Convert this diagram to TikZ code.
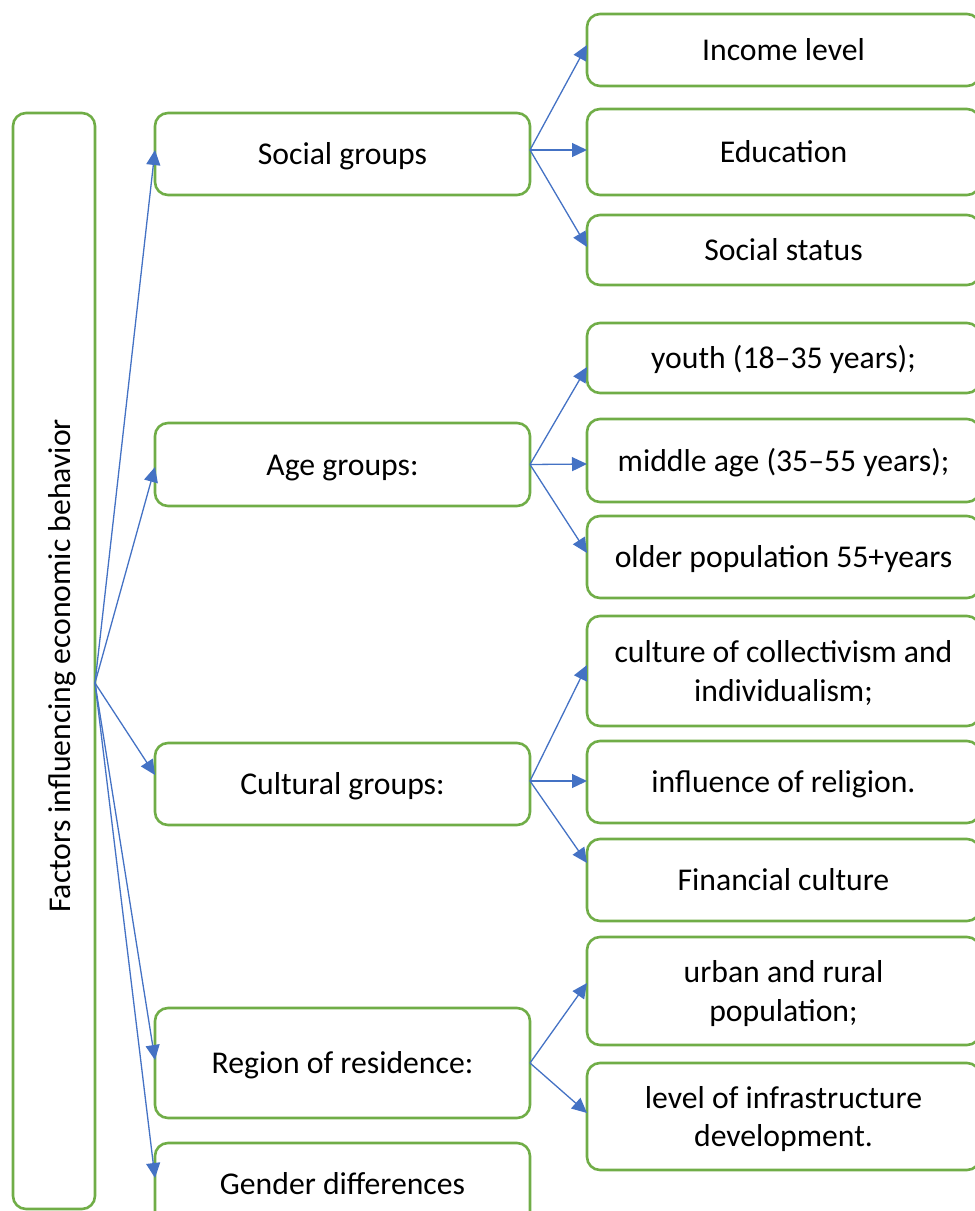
\documentclass[tikz,border=0pt]{standalone}
\usepackage{fontspec}
\setmainfont{Carlito}
\usetikzlibrary{arrows.meta,calc}
\definecolor{boxgreen}{HTML}{70AD47}
\definecolor{arrowblue}{HTML}{4472C4}
\newcommand{\myTopSt}{\rule{0pt}{30.2pt}}
\newcommand{\myBotSt}{\rule[-8.5pt]{0pt}{8.5pt}}
\begin{document}
\begin{tikzpicture}[x=1pt,y=-1pt,
  txt/.style={font=\fontsize{31.7}{38.4}\selectfont},
  box/.style={draw=boxgreen, line width=2.6pt, rounded corners=13pt, inner sep=0pt, outer sep=0pt, align=center, txt},
  midbox/.style={box, minimum width=375pt},
  rightbox/.style={box, minimum width=393pt},
  conn/.style={draw=arrowblue, line width=1.3pt, -{Triangle[length=15pt,width=14pt]}}]
\useasboundingbox (0,0) rectangle (975,1211);
\clip (0,0) rectangle (975,1211);
% left column
\node[box, minimum width=82pt, minimum height=1096pt] (L) at (54,661) {};
\node[txt, rotate=90, anchor=base west, inner sep=0pt] (title) at (70,913) {Factors influencing economic behavior};
% middle column
\node[midbox, minimum height=82pt] (social) at (342.5,154) {\myTopSt Social groups\myBotSt};
\node[midbox, minimum height=83pt] (age) at (342.5,464.5) {\myTopSt Age groups:\myBotSt};
\node[midbox, minimum height=82pt] (cult) at (342.5,784) {\myTopSt Cultural groups:\myBotSt};
\node[midbox, minimum height=110pt] (region) at (342.5,1063) {\myTopSt Region of residence:\myBotSt};
\node[midbox, minimum height=82pt] (gender) at (342.5,1184) {\myTopSt Gender differences\myBotSt};
% right column
\node[rightbox, minimum height=72pt] (income) at (783.5,50) {\myTopSt Income level\myBotSt};
\node[rightbox, minimum height=86pt] (edu) at (783.5,152) {\myTopSt Education\myBotSt};
\node[rightbox, minimum height=70pt] (status) at (783.5,250) {\myTopSt Social status\myBotSt};
\node[rightbox, minimum height=70pt] (youth) at (783.5,358) {\myTopSt youth (18–35 years);\myBotSt};
\node[rightbox, minimum height=83pt] (middle) at (783.5,460.5) {\myTopSt middle age (35–55 years);\myBotSt};
\node[rightbox, minimum height=82pt] (older) at (783.5,557) {\myTopSt older population 55+years\myBotSt};
\node[rightbox, minimum height=110pt] (coll) at (783.5,671) {\myTopSt culture of collectivism and\\individualism;\myBotSt};
\node[rightbox, minimum height=82pt] (relig) at (783.5,782) {\myTopSt influence of religion.\myBotSt};
\node[rightbox, minimum height=82pt] (fin) at (783.5,880) {\myTopSt Financial culture\myBotSt};
\node[rightbox, minimum height=108pt] (urban) at (783.5,991) {\myTopSt urban and rural\\population;\myBotSt};
\node[rightbox, minimum height=107pt] (infra) at (783.5,1116.5) {\myTopSt level of infrastructure\\development.\myBotSt};
% connectors
\coordinate (src) at ($(L.east)+(0,22)$);
\draw[conn] (src) -- ($(social.west)+(0,-4)$);
\draw[conn] (src) -- ($(age.west)+(0,2.5)$);
\draw[conn] (src) -- ($(cult.west)+(0,-9)$);
\draw[conn] (src) -- ($(region.west)+(0,-3)$);
\draw[conn] (src) -- ($(gender.west)+(0,-6)$);
\coordinate (s1) at ($(social.east)+(0,-4)$);
\draw[conn] (s1) -- ($(income.west)+(0,-5)$);
\draw[conn] (s1) -- ($(edu.west)+(0,-2)$);
\draw[conn] (s1) -- ($(status.west)+(0,-3)$);
\coordinate (s2) at (age.east);
\draw[conn] (s2) -- ($(youth.west)+(0,9)$);
\draw[conn] (s2) -- ($(middle.west)+(0,3.5)$);
\draw[conn] (s2) -- ($(older.west)+(0,-4)$);
\coordinate (s3) at ($(cult.east)+(0,-3)$);
\draw[conn] (s3) -- ($(coll.west)+(0,-6)$);
\draw[conn] (s3) -- ($(relig.west)+(0,-1)$);
\draw[conn] (s3) -- ($(fin.west)+(0,-17)$);
\coordinate (s4) at (region.east);
\draw[conn] (s4) -- ($(urban.west)+(0,-8)$);
\draw[conn] (s4) -- ($(infra.west)+(0,-3.5)$);
\end{tikzpicture}
\end{document}
